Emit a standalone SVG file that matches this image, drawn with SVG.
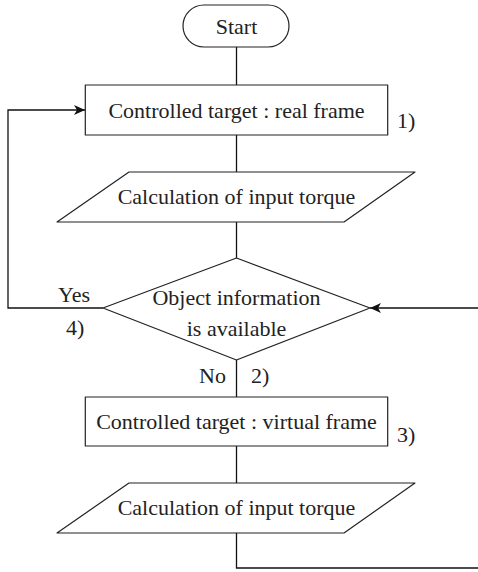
<svg xmlns="http://www.w3.org/2000/svg" width="478" height="572" viewBox="0 0 478 572">
<style>
.s{fill:#fff;stroke:#222;stroke-width:1.2;stroke-linejoin:round}
.c{fill:none;stroke:#111;stroke-width:1.3}
text{font-family:"Liberation Serif","Times New Roman",serif;font-size:22px;fill:#222}
.m{text-anchor:middle}
</style>
<defs>
<marker id="ah" markerWidth="12" markerHeight="10" refX="11" refY="5" orient="auto" markerUnits="userSpaceOnUse">
<path d="M0,0 L11,5 L0,10 L3,5 Z" fill="#111"/>
</marker>
</defs>
<rect width="478" height="572" fill="#fff"/>
<g id="connectors">
<line class="c" x1="236.5" y1="47" x2="236.5" y2="85"/>
<line class="c" x1="236.5" y1="135" x2="236.5" y2="172"/>
<line class="c" x1="236.5" y1="222" x2="236.5" y2="258"/>
<polyline class="c" points="103,308 8,308 8,110 85,110" marker-end="url(#ah)"/>
<line class="c" x1="478" y1="308" x2="370" y2="308" marker-end="url(#ah)"/>
<line class="c" x1="236.5" y1="360" x2="236.5" y2="397"/>
<line class="c" x1="236.5" y1="446" x2="236.5" y2="483"/>
<polyline class="c" points="236.5,533 236.5,568 478,568"/>
</g>
<g id="start">
<rect class="s" x="183" y="5" width="106" height="42" rx="21"/>
<text class="m" x="236.5" y="34">Start</text>
</g>
<g id="box1">
<rect class="s" x="85.3" y="85" width="302.4" height="50"/>
<text class="m" x="236.5" y="118">Controlled target : real frame</text>
<text x="397" y="128">1)</text>
</g>
<g id="calc1">
<polygon class="s" points="129,172 415,172 344,222 57,222"/>
<text class="m" x="236.5" y="204">Calculation of input torque</text>
</g>
<g id="decision">
<polygon class="s" points="236.5,258 370,308 236.5,360 103,308"/>
<text class="m" x="236.5" y="305">Object information</text>
<text class="m" x="236.5" y="336">is available</text>
<text x="58" y="302">Yes</text>
<text x="66" y="335">4)</text>
<text x="199" y="383">No</text>
<text x="251" y="383">2)</text>
</g>
<g id="box2">
<rect class="s" x="85.3" y="397" width="302.4" height="49"/>
<text class="m" x="236.5" y="429">Controlled target : virtual frame</text>
<text x="397" y="442">3)</text>
</g>
<g id="calc2">
<polygon class="s" points="129,483 415,483 344,533 57,533"/>
<text class="m" x="236.5" y="515">Calculation of input torque</text>
</g>
</svg>
